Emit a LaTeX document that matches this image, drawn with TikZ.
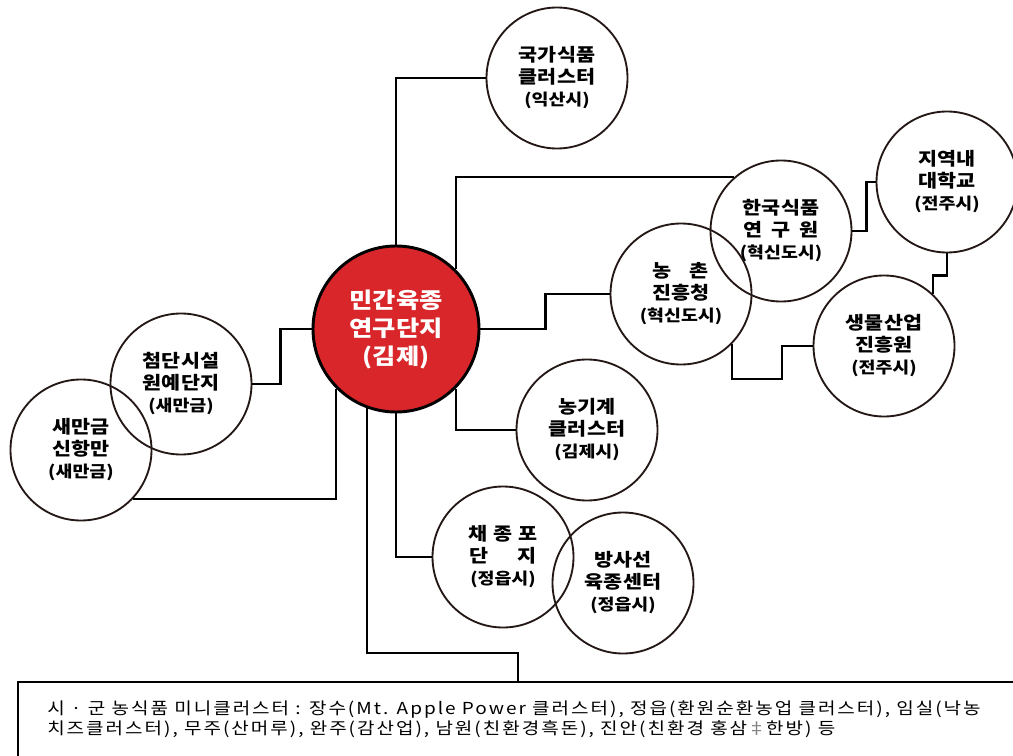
\documentclass[tikz,border=0pt]{standalone}
\usepackage{fontspec}
\setmainfont{Noto Sans CJK KR}[FakeStretch=1.15]
\newfontfamily\notefont{Noto Sans CJK KR}[FakeStretch=1.15, LetterSpace=12]
\usepackage{xcolor}
\usetikzlibrary{calc}

\definecolor{hubred}{RGB}{216,38,42}
\definecolor{ringbrown}{RGB}{35,24,21}

\tikzset{
	hub/.style={circle, draw=black, line width=2.2pt, fill=hubred, minimum size=124.5pt, inner sep=0pt, text=white, align=center, font=\bfseries\fontsize{16.5}{21}\selectfont},
	site/.style={circle, draw=ringbrown, line width=1.4pt, minimum size=105.75pt, inner sep=0pt, align=center, font=\bfseries\fontsize{13.5}{16.5}\selectfont},
	link/.style={black, line width=1.6pt}
}
\newcommand{\town}[1]{{\fontsize{12}{16.5}\selectfont #1}}

\begin{document}
\begin{tikzpicture}[x=0.75pt, y=-0.75pt]
		\useasboundingbox (0,0) rectangle (1013,756);
		
		%definition of centres
		\coordinate (cMain) at (396,329);
		\coordinate (cFood) at (557,78);
		\coordinate (cKfri) at (781,231);
		\coordinate (cRda) at (681,294);
		\coordinate (cUniv) at (947,182);
		\coordinate (cBio) at (884,346);
		\coordinate (cCheom) at (181,384);
		\coordinate (cPort) at (81,450);
		\coordinate (cAgri) at (587,430);
		\coordinate (cSeed) at (503,557);
		\coordinate (cRay) at (623,583);
		
		%circles
		\node [hub] (main) at (cMain) {민간육종\\연구단지\\(김제)};
		\node [site] (food) at (cFood) {국가식품\\클러스터\\\town{(익산시)}};
		\node [site] (kfri) at (cKfri) {한국식품\\연\hspace{.5em}구\hspace{.5em}원\\\town{(혁신도시)}};
		\node [site] (rda) at (cRda) {농\hspace{1em}촌\\진흥청\\\town{(혁신도시)}};
		\node [site] (univ) at (cUniv) {지역내\\대학교\\\town{(전주시)}};
		\node [site] (bio) at (cBio) {생물산업\\진흥원\\\town{(전주시)}};
		\node [site] (cheom) at (cCheom) {첨단시설\\원예단지\\\town{(새만금)}};
		\node [site] (port) at (cPort) {새만금\\신항만\\\town{(새만금)}};
		\node [site] (agri) at (cAgri) {농기계\\클러스터\\\town{(김제시)}};
		\node [site] (seed) at (cSeed) {채\hspace{.35em}종\hspace{.35em}포\\단\hspace{1.6em}지\\\town{(정읍시)}};
		\node [site] (ray) at (cRay) {방사선\\육종센터\\\town{(정읍시)}};
		
		%box at the bottom
		\node [draw=black, line width=1.5pt, anchor=north west, minimum width=765pt, minimum height=75pt, inner sep=0pt] (box) at (17,681) {};
		\node [anchor=north west, align=left, inner sep=0pt, font=\notefont\fontsize{12.4}{14.6}\selectfont] (note) at (47,701)
			{시 · 군 농식품 미니클러스터 : 장수(Mt. Apple Power 클러스터), 정읍(환원순환농업 클러스터), 임실(낙농\\
			 치즈클러스터), 무주(산머루), 완주(감산업), 남원(친환경흑돈), 진안(친환경 홍삼{\color{gray}‡}한방) 등};
		\coordinate (tap) at ($(box.north west)+(501,0)$);
		
		%connectors
		\draw [link] (main.north) |- (food.west);
		\draw [link] (main.45) |- (kfri.131);
		\draw [link] (main.east) -- ++(65,0) |- (rda.west);
		\draw [link] (rda.-44) |- ++(50,35) |- (bio.west);
		\draw [link] (kfri.east) -- ++(14,0) |- (univ.west);
		\draw [link] (univ.south) -- ++(0,22) -| (bio.47);
		\draw [link] (cheom.east) -- ++(28,0) |- (main.west);
		\draw [link] (port.-43) -| (main.-135);
		\draw [link] (main.-45) |- (agri.west);
		\draw [link] (main.south) |- (seed.west);
		\draw [link] (main.-110) |- ($(tap)+(0,-28)$) -- (tap);
	\end{tikzpicture}
\end{document}
